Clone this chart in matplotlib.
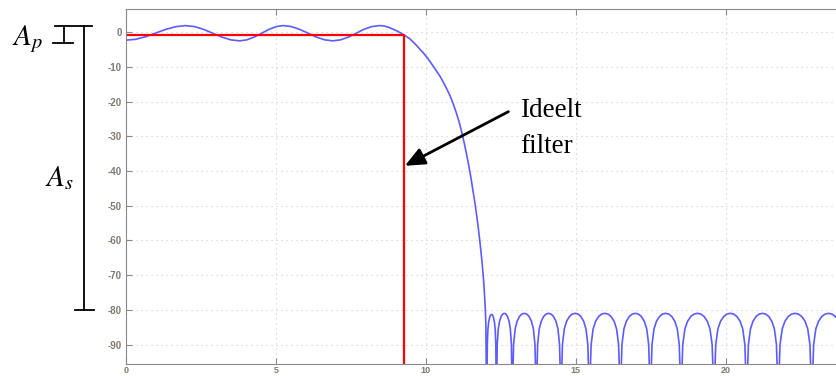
"""Magnitude response of a lowpass filter against the ideal brick-wall filter,
with the passband ripple A_p and stopband attenuation A_s marked on the left."""

import matplotlib

matplotlib.use("Agg")
import matplotlib.pyplot as plt

plt.rcParams.update(
    {
        "font.family": "sans-serif",
        "font.sans-serif": ["Liberation Sans", "DejaVu Sans"],
        "mathtext.fontset": "stix",
        "axes.unicode_minus": False,
    }
)

# Passband ripple.
pass_x = [0.0, 0.33, 0.67, 1.0, 1.33, 1.67, 2.0,
          2.3, 2.6, 2.9, 3.2, 3.5, 3.8,
          4.04, 4.28, 4.53, 4.77, 5.01, 5.25,
          5.53, 5.8, 6.08, 6.35, 6.63, 6.9,
          7.16, 7.42, 7.68, 7.93, 8.19, 8.45,
          8.6, 8.75, 8.9, 9.05, 9.17, 9.27]
pass_db = [-2.3, -2.05, -1.3, -0.25, 0.8, 1.6, 1.9,
           1.6, 0.8, -0.3, -1.4, -2.2, -2.5,
           -2.2, -1.4, -0.3, 0.8, 1.6, 1.9,
           1.6, 0.8, -0.3, -1.4, -2.2, -2.5,
           -2.2, -1.4, -0.3, 0.8, 1.6, 1.9,
           1.8, 1.45, 0.9, 0.3, -0.25, -0.8]

# Transition band.
trans_x = [9.45, 9.6, 9.75, 9.92, 10.06, 10.2, 10.34, 10.48, 10.6, 10.7,
           10.81, 10.92, 11.01, 11.1, 11.18, 11.25, 11.33, 11.4, 11.5,
           11.59, 11.65, 11.7, 11.76, 11.81, 11.87, 11.92, 11.95, 11.98,
           12.0, 12.03]
trans_db = [-1.8, -3.0, -4.4, -6.0, -7.5, -9.2, -11.0, -12.8, -14.7, -16.4,
            -18.4, -20.8, -23.1, -25.6, -28.2, -30.8, -34.0, -37.0, -41.8,
            -46.6, -50.0, -53.2, -57.3, -61.0, -66.0, -71.0, -74.8, -79.5,
            -84.0, -115.0]

# Stopband lobes, one row per lobe, each ending in its null.
stop_x = [
    12.036, 12.048, 12.068, 12.094, 12.126, 12.158, 12.19, 12.222, 12.254, 12.286, 12.312, 12.332, 12.344, 12.35,
    12.361, 12.379, 12.414, 12.456, 12.509, 12.562, 12.615, 12.668, 12.721, 12.774, 12.816, 12.851, 12.869, 12.88,
    12.896, 12.924, 12.976, 13.04, 13.12, 13.2, 13.28, 13.36, 13.44, 13.52, 13.584, 13.636, 13.664, 13.68,
    13.696, 13.725, 13.778, 13.844, 13.926, 14.008, 14.09, 14.172, 14.254, 14.336, 14.402, 14.455, 14.484, 14.50,
    14.519, 14.552, 14.614, 14.69, 14.785, 14.88, 14.975, 15.07, 15.165, 15.26, 15.336, 15.398, 15.431, 15.45,
    15.471, 15.507, 15.574, 15.656, 15.759, 15.862, 15.965, 16.068, 16.171, 16.274, 16.356, 16.423, 16.459, 16.48,
    16.5, 16.535, 16.6, 16.68, 16.78, 16.88, 16.98, 17.08, 17.18, 17.28, 17.36, 17.425, 17.46, 17.48,
    17.5, 17.536, 17.602, 17.684, 17.786, 17.888, 17.99, 18.092, 18.194, 18.296, 18.378, 18.444, 18.48, 18.50,
    18.522, 18.561, 18.632, 18.72, 18.83, 18.94, 19.05, 19.16, 19.27, 19.38, 19.468, 19.54, 19.578, 19.60,
    19.622, 19.66, 19.731, 19.818, 19.927, 20.036, 20.145, 20.254, 20.363, 20.472, 20.559, 20.63, 20.668, 20.69,
    20.711, 20.748, 20.816, 20.9, 21.005, 21.11, 21.215, 21.32, 21.425, 21.53, 21.614, 21.682, 21.719, 21.74,
    21.762, 21.802, 21.874, 21.964, 22.076, 22.188, 22.3, 22.412, 22.524, 22.636, 22.726, 22.798, 22.838, 22.86,
    22.882, 22.922, 22.994, 23.084, 23.196, 23.308, 23.42, 23.532, 23.644, 23.756, 23.846, 23.918,
]
stop_db = [
    -100, -90, -85.7, -83.5, -82.2, -81.5, -81.3, -81.5, -82.2, -83.5, -85.7, -90, -100, -115,
    -100, -90, -85.5, -83.3, -81.9, -81.2, -81.0, -81.2, -81.9, -83.3, -85.5, -90, -100, -115,
    -100, -90, -85.5, -83.3, -81.9, -81.2, -81.0, -81.2, -81.9, -83.3, -85.5, -90, -100, -115,
    -100, -90, -85.5, -83.3, -81.9, -81.2, -81.0, -81.2, -81.9, -83.3, -85.5, -90, -100, -115,
    -100, -90, -85.5, -83.3, -81.9, -81.2, -81.0, -81.2, -81.9, -83.3, -85.5, -90, -100, -115,
    -100, -90, -85.5, -83.3, -81.9, -81.2, -81.0, -81.2, -81.9, -83.3, -85.5, -90, -100, -115,
    -100, -90, -85.5, -83.3, -81.9, -81.2, -81.0, -81.2, -81.9, -83.3, -85.5, -90, -100, -115,
    -100, -90, -85.5, -83.3, -81.9, -81.2, -81.0, -81.2, -81.9, -83.3, -85.5, -90, -100, -115,
    -100, -90, -85.5, -83.3, -81.9, -81.2, -81.0, -81.2, -81.9, -83.3, -85.5, -90, -100, -115,
    -100, -90, -85.5, -83.3, -81.9, -81.2, -81.0, -81.2, -81.9, -83.3, -85.5, -90, -100, -115,
    -100, -90, -85.5, -83.3, -81.9, -81.2, -81.0, -81.2, -81.9, -83.3, -85.5, -90, -100, -115,
    -100, -90, -85.5, -83.3, -81.9, -81.2, -81.0, -81.2, -81.9, -83.3, -85.5, -90, -100, -115,
    -100, -90, -85.5, -83.3, -81.9, -81.2, -81.0, -81.2, -81.9, -83.3, -85.5, -90,
]

# Ideal brick-wall filter.
ideal_x = [0.0, 9.27, 9.27]
ideal_db = [-0.8, -0.8, -120.0]

x_ticks = [0, 5, 10, 15, 20]
y_ticks = [-90, -80, -70, -60, -50, -40, -30, -20, -10, 0]

TICK_COLOR = "#7f7a70"
SPINE_COLOR = "#8a8a8a"

fig = plt.figure(figsize=(8.37, 3.76), dpi=100)
ax = fig.add_axes([0.1502, 0.0319, 0.8498, 0.9434])

resp_x = pass_x + trans_x + stop_x
resp_db = pass_db + trans_db + stop_db
ax.plot(resp_x, resp_db, color="#5c5cff", lw=1.2)
ax.plot(ideal_x, ideal_db, color="#ff0000", lw=1.6)

ax.set_xlim(0, 23.7)
ax.set_ylim(-95.6, 6.6)
ax.set_xticks(x_ticks)
ax.set_yticks(y_ticks)
ax.grid(True, color="#cccccc", linestyle=(0, (1, 3.5)), linewidth=0.8)
ax.tick_params(direction="in", length=4, width=0.8, color=SPINE_COLOR,
               labelsize=7, labelcolor=TICK_COLOR, pad=3, top=True)
ax.tick_params(axis="x", pad=1.2, labelsize=6.5)
for lab in ax.get_xticklabels() + ax.get_yticklabels():
    lab.set_fontweight("bold")
for side in ("left", "top", "bottom"):
    ax.spines[side].set_color(SPINE_COLOR)
ax.spines["right"].set_visible(False)

# Arrow and label for the ideal filter.
ax.annotate("", xy=(9.3, -38.5), xytext=(12.75, -22.9),
            arrowprops=dict(arrowstyle="-|>,head_length=0.8,head_width=0.35",
                            color="black", lw=2, mutation_scale=15,
                            shrinkA=0, shrinkB=0))
serif = ["Liberation Serif", "DejaVu Serif"]
ax.text(13.14, -24.5, "Ideelt", family=serif, fontsize=19.5, va="baseline")
ax.text(13.14, -34.7, "filter", family=serif, fontsize=19.5, va="baseline")

# A_p and A_s brackets left of the axes (axes-fraction x, data y).
tr = ax.get_yaxis_transform()
bracket = dict(color="black", lw=1.3, transform=tr, clip_on=False)
ax.plot([-0.0994, -0.0474], [1.7, 1.7], **bracket)
ax.plot([-0.0582, -0.0582], [1.7, -80.0], **bracket)
ax.plot([-0.0713, -0.0446], [-80.0, -80.0], **bracket)
ax.plot([-0.0867, -0.0867], [1.7, -3.2], **bracket)
ax.plot([-0.1018, -0.0745], [-3.2, -3.2], **bracket)
ax.text(-0.16, -3.7, r"$A_p$", transform=tr, fontsize=21, va="baseline")
ax.text(-0.1134, -44.3, r"$A_s$", transform=tr, fontsize=21, va="baseline")

fig.savefig("out.png", dpi=100)
